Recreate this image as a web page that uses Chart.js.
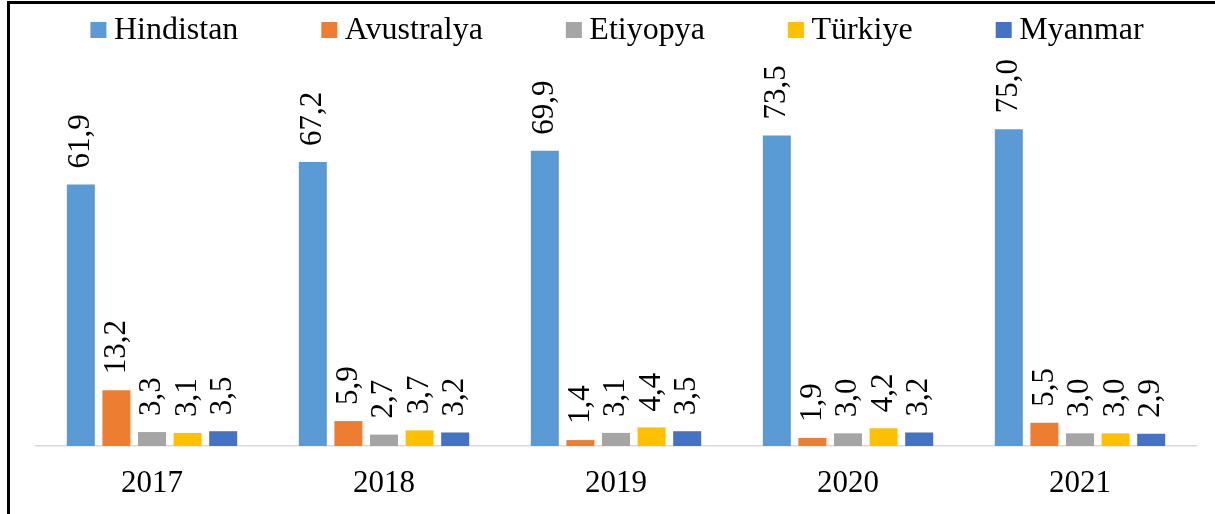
<!DOCTYPE html>
<html>
<head>
<meta charset="utf-8">
<script src="https://cdn.jsdelivr.net/npm/chart.js@4/dist/chart.umd.min.js"></script>
<style>
  html, body { margin: 0; padding: 0; background: #fff; }
  #wrap { position: relative; width: 1215px; height: 514px; overflow: hidden; }
  #frame {
    position: absolute; left: 7px; top: 1px; width: 1300px; height: 600px;
    border-left: 3px solid #000; border-top: 3px solid #000; pointer-events: none;
  }
</style>
</head>
<body>
<div id="wrap">
  <canvas id="chart" width="1215" height="514"></canvas>
  <div id="frame"></div>
</div>
<script>
const years = ["2017", "2018", "2019", "2020", "2021"];
const seriesNames = ["Hindistan", "Avustralya", "Etiyopya", "Türkiye", "Myanmar"];
const hindistan = [61.9, 67.2, 69.9, 73.5, 75.0];
const avustralya = [13.2, 5.9, 1.4, 1.9, 5.5];
const etiyopya = [3.3, 2.7, 3.1, 3.0, 3.0];
const turkiye = [3.1, 3.7, 4.4, 4.2, 3.0];
const myanmar = [3.5, 3.2, 3.5, 3.2, 2.9];
const colors = ["#5B9BD5", "#ED7D31", "#A5A5A5", "#FFC000", "#4472C4"];

const FONT = "'Liberation Serif', 'Times New Roman', serif";
Chart.defaults.color = "#000";
Chart.defaults.font.family = FONT;

// rotated value labels above each bar
const valueLabels = {
  id: "valueLabels",
  afterDatasetsDraw(chart) {
    const ctx = chart.ctx;
    ctx.save();
    ctx.font = "31px " + FONT;
    ctx.fillStyle = "#000";
    ctx.textAlign = "left";
    ctx.textBaseline = "middle";
    chart.data.datasets.forEach((ds, i) => {
      chart.getDatasetMeta(i).data.forEach((bar, j) => {
        const txt = ds.data[j].toFixed(1).replace(".", ",");
        ctx.save();
        ctx.translate(bar.x, bar.y - 16);
        ctx.rotate(-Math.PI / 2);
        ctx.fillText(txt, 0, 0);
        ctx.restore();
      });
    });
    ctx.restore();
  }
};

// legend row at the top, square markers
const topLegend = {
  id: "topLegend",
  afterDraw(chart) {
    const ctx = chart.ctx;
    ctx.save();
    ctx.font = "32px " + FONT;
    ctx.textBaseline = "alphabetic";
    ctx.textAlign = "left";
    const box = 16, gap = 7.5, spacing = 83;
    const widths = chart.data.datasets.map(ds => box + gap + ctx.measureText(ds.label).width);
    const total = widths.reduce((a, b) => a + b, 0) + spacing * (widths.length - 1);
    let x = 617 - total / 2;
    chart.data.datasets.forEach((ds, i) => {
      ctx.fillStyle = ds.backgroundColor;
      ctx.fillRect(x, 22, box, box);
      ctx.fillStyle = "#000";
      ctx.fillText(ds.label, x + box + gap, 39);
      x += widths[i] + spacing;
    });
    ctx.restore();
  }
};

const seriesData = [hindistan, avustralya, etiyopya, turkiye, myanmar];

new Chart(document.getElementById("chart"), {
  type: "bar",
  data: {
    labels: years,
    datasets: seriesNames.map((name, i) => ({
      label: name,
      data: seriesData[i],
      backgroundColor: colors[i],
      categoryPercentage: 0.767,
      barPercentage: 0.787
    }))
  },
  options: {
    responsive: false,
    animation: false,
    layout: { padding: { top: 108, left: 36, right: 19, bottom: 12 } },
    plugins: {
      legend: { display: false },
      tooltip: { enabled: false }
    },
    scales: {
      x: {
        grid: { display: false, drawTicks: false },
        border: { display: true, color: "#D9D9D9", width: 1.5 },
        ticks: { font: { size: 31 }, padding: 19 },
        afterFit(scale) { scale.height = 56; }
      },
      y: {
        display: false,
        min: 0,
        max: 80
      }
    }
  },
  plugins: [valueLabels, topLegend]
});
</script>
</body>
</html>
